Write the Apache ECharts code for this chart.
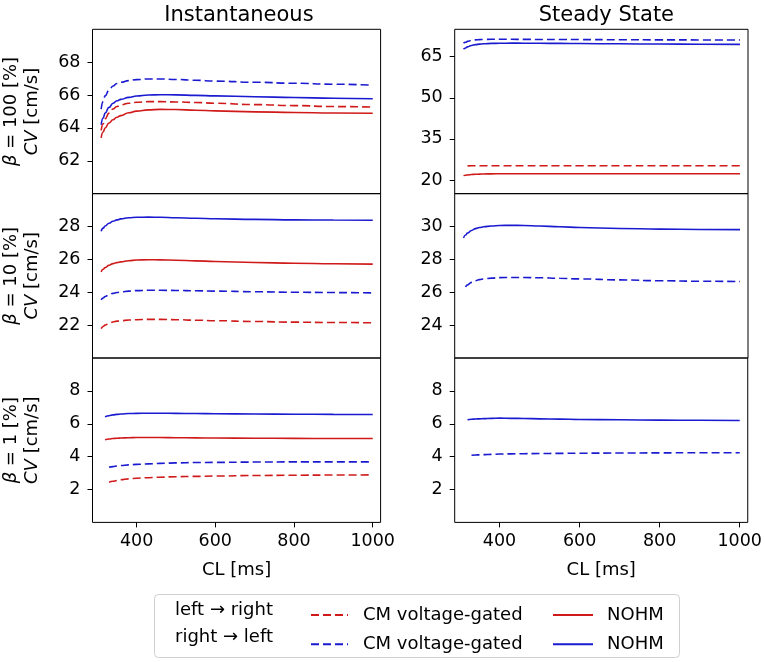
<!DOCTYPE html>
<html>
<head>
<meta charset="utf-8">
<script src="https://cdn.jsdelivr.net/npm/echarts@6/dist/echarts.min.js"></script>
<style>html,body{margin:0;padding:0;background:#fff}#c{width:765px;height:662px}</style>
</head>
<body>
<div id="c"></div>
<script>
// Cycle length samples [ms]
const CL = [310, 315, 320, 330, 340, 350, 360, 380, 400, 430, 460, 500, 550, 600, 700, 800, 900, 1000];

// Instantaneous, beta = 100
const inst100_cmLR   = [63.85, 64.25, 64.55, 64.9, 65.15, 65.3, 65.4, 65.5, 65.56, 65.6, 65.6, 65.58, 65.55, 65.5, 65.42, 65.36, 65.3, 65.27];
const inst100_cmRL   = [65.15, 65.6, 65.95, 66.3, 66.55, 66.7, 66.78, 66.88, 66.94, 66.98, 66.98, 66.95, 66.9, 66.85, 66.78, 66.72, 66.66, 66.6];
const inst100_nohmLR = [63.4, 63.75, 64.0, 64.3, 64.5, 64.65, 64.75, 64.92, 65.02, 65.1, 65.13, 65.12, 65.08, 65.04, 64.98, 64.94, 64.91, 64.89];
const inst100_nohmRL = [64.2, 64.6, 64.9, 65.25, 65.5, 65.65, 65.74, 65.86, 65.94, 66.0, 66.02, 66.01, 65.98, 65.95, 65.9, 65.85, 65.81, 65.78];

// Steady state, beta = 100
const ss100_cmLR   = [null, null, 25.15, 25.18, 25.2, 25.2, 25.2, 25.2, 25.2, 25.2, 25.2, 25.2, 25.2, 25.2, 25.2, 25.2, 25.2, 25.2];
const ss100_cmRL   = [69.9, 70.3, 70.6, 70.95, 71.15, 71.25, 71.3, 71.35, 71.35, 71.35, 71.33, 71.3, 71.28, 71.25, 71.2, 71.15, 71.12, 71.1];
const ss100_nohmLR = [21.6, 21.75, 21.85, 22.0, 22.1, 22.15, 22.2, 22.25, 22.28, 22.3, 22.3, 22.3, 22.3, 22.3, 22.3, 22.3, 22.3, 22.3];
const ss100_nohmRL = [67.7, 68.2, 68.6, 69.1, 69.4, 69.6, 69.7, 69.85, 69.9, 69.95, 69.93, 69.9, 69.85, 69.8, 69.7, 69.62, 69.55, 69.5];

// Instantaneous, beta = 10
const inst10_cmLR   = [21.79, 21.92, 22.0, 22.11, 22.19, 22.24, 22.27, 22.31, 22.33, 22.35, 22.35, 22.33, 22.3, 22.27, 22.22, 22.18, 22.16, 22.14];
const inst10_cmRL   = [23.53, 23.65, 23.74, 23.85, 23.93, 23.98, 24.02, 24.07, 24.1, 24.12, 24.12, 24.11, 24.09, 24.07, 24.03, 24.0, 23.98, 23.96];
const inst10_nohmLR = [25.24, 25.4, 25.5, 25.64, 25.74, 25.8, 25.85, 25.92, 25.96, 25.98, 25.97, 25.95, 25.91, 25.87, 25.81, 25.76, 25.73, 25.71];
const inst10_nohmRL = [27.71, 27.9, 28.03, 28.2, 28.32, 28.4, 28.46, 28.53, 28.56, 28.57, 28.56, 28.53, 28.5, 28.47, 28.43, 28.4, 28.39, 28.38];

// Steady state, beta = 10
const ss10_cmRL   = [null, 26.32, 26.45, 26.6, 26.7, 26.77, 26.81, 26.86, 26.89, 26.9, 26.9, 26.88, 26.85, 26.81, 26.75, 26.7, 26.67, 26.65];
const ss10_nohmRL = [29.3, 29.48, 29.6, 29.76, 29.87, 29.94, 29.98, 30.03, 30.06, 30.07, 30.06, 30.03, 29.98, 29.94, 29.88, 29.84, 29.82, 29.81];

// Instantaneous, beta = 1
const inst1_cmLR   = [null, null, null, 2.44, 2.5, 2.55, 2.59, 2.65, 2.69, 2.72, 2.75, 2.78, 2.8, 2.82, 2.85, 2.87, 2.88, 2.89];
const inst1_cmRL   = [null, null, null, 3.35, 3.39, 3.43, 3.46, 3.5, 3.53, 3.56, 3.59, 3.62, 3.64, 3.65, 3.67, 3.68, 3.68, 3.68];
const inst1_nohmLR = [null, null, 5.02, 5.07, 5.1, 5.12, 5.13, 5.15, 5.16, 5.16, 5.16, 5.15, 5.14, 5.13, 5.12, 5.11, 5.1, 5.1];
const inst1_nohmRL = [null, null, 6.42, 6.49, 6.54, 6.57, 6.59, 6.62, 6.63, 6.64, 6.64, 6.63, 6.62, 6.61, 6.59, 6.58, 6.57, 6.56];

// Steady state, beta = 1
const ss1_cmRL   = [null, null, null, 4.08, 4.1, 4.11, 4.12, 4.14, 4.16, 4.17, 4.18, 4.19, 4.2, 4.21, 4.22, 4.23, 4.24, 4.24];
const ss1_nohmRL = [null, null, 6.24, 6.27, 6.29, 6.3, 6.31, 6.33, 6.34, 6.33, 6.32, 6.3, 6.28, 6.26, 6.24, 6.22, 6.21, 6.2];

// Tick labels
const xTicks = [400, 600, 800, 1000];
const yTicks = [[62, 64, 66, 68], [20, 35, 50, 65], [22, 24, 26, 28], [24, 26, 28, 30], [2, 4, 6, 8], [2, 4, 6, 8]];
const yRanges = [[60, 70], [15, 75], [20, 30], [22, 32], [0, 10], [0, 10]];
const xRange = [288, 1020];
const colTitles = ['Instantaneous', 'Steady State'];
const rowBetas = ['100', '10', '1'];

const panelSeries = [
  {cmLR: inst100_cmLR, cmRL: inst100_cmRL, nohmLR: inst100_nohmLR, nohmRL: inst100_nohmRL},
  {cmLR: ss100_cmLR, cmRL: ss100_cmRL, nohmLR: ss100_nohmLR, nohmRL: ss100_nohmRL},
  {cmLR: inst10_cmLR, cmRL: inst10_cmRL, nohmLR: inst10_nohmLR, nohmRL: inst10_nohmRL},
  {cmRL: ss10_cmRL, nohmRL: ss10_nohmRL},
  {cmLR: inst1_cmLR, cmRL: inst1_cmRL, nohmLR: inst1_nohmLR, nohmRL: inst1_nohmRL},
  {cmRL: ss1_cmRL, nohmRL: ss1_nohmRL}
];

const RED = '#d01a1a', BLUE = '#1a1ad0';
const FONT = 'DejaVu Sans';
const styleOf = {
  cmLR: {color: RED, type: [8, 4]},
  cmRL: {color: BLUE, type: [8, 4]},
  nohmLR: {color: RED, type: 'solid'},
  nohmRL: {color: BLUE, type: 'solid'}
};

const colLeft = [87.3, 454.7], colWidth = 293.3;
const rowTop = [29.3, 193.6, 358.0], rowHeight = 164.4;

const grids = [], xAxes = [], yAxes = [], series = [];
for (let i = 0; i < 6; i++) {
  const r = Math.floor(i / 2), c = i % 2;
  grids.push({left: colLeft[c], top: rowTop[r], width: colWidth, height: rowHeight,
    show: true, borderColor: '#000', borderWidth: 1, backgroundColor: 'transparent'});
  const bottom = r === 2;
  xAxes.push({type: 'value', gridIndex: i, min: xRange[0], max: xRange[1],
    axisLine: {show: false}, splitLine: {show: false},
    axisTick: {show: bottom, length: 5, lineStyle: {color: '#000'}, customValues: xTicks},
    axisLabel: {show: bottom, customValues: xTicks, formatter: v => String(v), color: '#000', fontFamily: FONT, fontSize: 17.5, margin: 10},
    name: bottom ? 'CL [ms]' : '', nameLocation: 'middle', nameGap: 39,
    nameTextStyle: {color: '#000', fontFamily: FONT, fontSize: 18}});
  yAxes.push({type: 'value', gridIndex: i, min: yRanges[i][0], max: yRanges[i][1],
    axisLine: {show: false}, splitLine: {show: false},
    axisTick: {show: true, length: 5, lineStyle: {color: '#000'}, customValues: yTicks[i]},
    axisLabel: {customValues: yTicks[i], formatter: v => String(v), color: '#000', fontFamily: FONT, fontSize: 17.5, margin: 12},
    name: c === 0 ? '{it|β} = ' + rowBetas[r] + ' [%]\n{it|CV} [cm/s]' : '',
    nameLocation: 'middle', nameRotate: 90, nameGap: 49.5,
    nameTextStyle: {color: '#000', fontFamily: FONT, fontSize: 18, lineHeight: 21, align: 'center',
      rich: {it: {fontStyle: 'italic', fontFamily: FONT, fontSize: 18, color: '#000'}}}});
  const ps = panelSeries[i];
  for (const key of ['cmLR', 'cmRL', 'nohmLR', 'nohmRL']) {
    if (!ps[key]) continue;
    series.push({name: key, type: 'line', xAxisIndex: i, yAxisIndex: i,
      data: CL.map((x, k) => [x, ps[key][k]]),
      showSymbol: false, symbol: 'none', smooth: 0.5, smoothMonotone: 'x', silent: true,
      lineStyle: {color: styleOf[key].color, type: styleOf[key].type, width: 1.6},
      itemStyle: {color: styleOf[key].color}, z: 3});
  }
}

const legendText = {color: '#000', fontFamily: FONT, fontSize: 18, padding: [0, 0, 0, 10]};
const option = {
  animation: false,
  backgroundColor: '#fff',
  title: colTitles.map((t, c) => ({text: t, left: colLeft[c] + colWidth / 2, top: 0, textAlign: 'center',
    textStyle: {color: '#000', fontFamily: FONT, fontSize: 21, fontWeight: 'normal'}})),
  grid: grids, xAxis: xAxes, yAxis: yAxes, series: series,
  legend: [
    {data: ['cmLR', 'cmRL'], orient: 'vertical', left: 305, top: 601, itemWidth: 37, itemHeight: 16, itemGap: 11.3,
     selectedMode: false, formatter: () => 'CM voltage-gated', textStyle: legendText, itemStyle: {opacity: 0}},
    {data: ['nohmLR', 'nohmRL'], orient: 'vertical', left: 547, top: 601, itemWidth: 40, itemHeight: 16, itemGap: 11.3,
     selectedMode: false, formatter: () => 'NOHM', itemStyle: {opacity: 0},
     textStyle: Object.assign({}, legendText, {padding: [0, 0, 0, 9]})}
  ],
  graphic: [
    {type: 'rect', shape: {x: 154.5, y: 594.5, width: 525, height: 63, r: 4}, z: -1,
     style: {fill: '#fff', stroke: '#d0d0d0', lineWidth: 1}},
    {type: 'text', x: 175, y: 610, style: {text: 'left → right', fill: '#000', font: '18px "DejaVu Sans"', verticalAlign: 'middle'}},
    {type: 'text', x: 175, y: 637.3, style: {text: 'right → left', fill: '#000', font: '18px "DejaVu Sans"', verticalAlign: 'middle'}}
  ]
};
const chart = echarts.init(document.getElementById('c'), null, {renderer: 'canvas'});
chart.setOption(option);
</script>
</body>
</html>
